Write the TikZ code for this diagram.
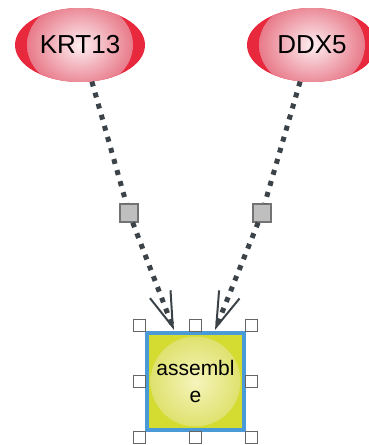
\documentclass[tikz,border=0pt]{standalone}
\usepackage{fontspec}
\setmainfont{Liberation Sans}
\usetikzlibrary{shapes.geometric,arrows.meta,calc}
\definecolor{protred}{HTML}{E8283C}
\definecolor{pinkin}{HTML}{FDEEF0}
\definecolor{pinkout}{HTML}{E87A8A}
\definecolor{linkgray}{HTML}{3C4348}
\definecolor{asmfill}{HTML}{D4DC32}
\definecolor{asmin}{HTML}{F6F4BC}
\definecolor{asmout}{HTML}{DDE068}
\definecolor{asmblue}{HTML}{4A9AD8}
\begin{document}
\begin{tikzpicture}[x=1pt,y=-1pt,
	protein/.style={ellipse,minimum width=130pt,minimum height=74pt,inner sep=0pt,
		font=\fontsize{26}{30}\selectfont,
		path picture={\fill[protred] (path picture bounding box.center) ellipse (66pt and 38pt);
			\shade[inner color=pinkin,outer color=pinkout] (path picture bounding box.center) ellipse (53pt and 44pt);}},
	process/.style={rectangle,draw=gray!90!black,fill=gray!50,line width=1.2pt,minimum size=18pt,inner sep=0pt},
	handle/.style={rectangle,draw=gray!80!black,fill=white,line width=1pt,minimum size=12pt,inner sep=0pt},
	link/.style={draw=linkgray,line width=5pt,dash pattern=on 5pt off 6.5pt},
	barb/.style={-{Straight Barb[length=35pt,width=22pt,line width=2pt]}}]
	\useasboundingbox (0,0) rectangle (368,445);
	% proteins
	\node[protein] (krt) at (80,45) {KRT13};
	\node[protein] (ddx) at (312,45) {DDX5};
	% process squares
	\node[process] (p1) at (129,213) {};
	\node[process] (p2) at (262,213) {};
	% assemble box
	\node[rectangle,draw=asmblue,line width=4pt,fill=asmfill,minimum size=97pt,inner sep=0pt,
		align=center,font=\fontsize{21}{27}\selectfont,
		path picture={\shade[inner color=asmin,outer color=asmout] (path picture bounding box.center) circle (45pt);}]
		(asm) at (195.5,381.5) {assembl\\e};
	% selection handles
	\foreach \dx/\dy [count=\i] in {-56/-56,0/-56,56/-56,-56/0,56/0,-56/56,0/56,56/56}
		\node[handle] (h\i) at ($(asm.center)+(\dx,\dy)$) {};
	% links
	\draw[link] (krt.-72) -- (p1);
	\draw[link,barb] (p1) -- ([xshift=-21.5pt,yshift=1pt]asm.north);
	\draw[link] (ddx.-108) -- (p2);
	\draw[link,barb] (p2) -- ([xshift=19.5pt,yshift=1pt]asm.north);
\end{tikzpicture}
\end{document}
